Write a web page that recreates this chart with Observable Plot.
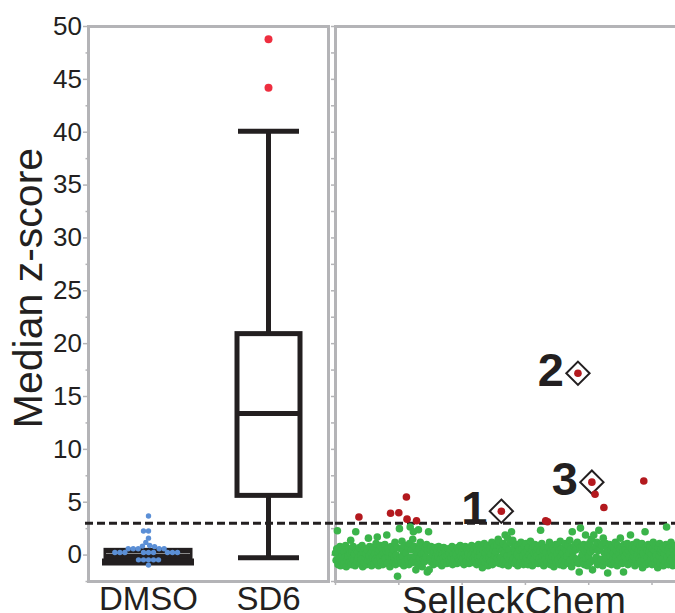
<!DOCTYPE html>
<html><head><meta charset="utf-8">
<script src="https://cdn.jsdelivr.net/npm/d3@7"></script>
<script src="https://cdn.jsdelivr.net/npm/@observablehq/plot@0.6"></script>
<style>
body{margin:0;width:675px;height:613px;overflow:hidden;background:#fff;}
#c{display:flex;align-items:flex-start;position:relative;}
</style></head><body><div id="c"></div>
<script>
// ---- data ----
const categories = ["DMSO", "SD6"];
const boxQ1 = [-0.65, 5.6];
const boxMedian = [0.15, 13.4];
const boxQ3 = [0.4, 20.9];
const whiskerLo = [-0.65, -0.25];
const whiskerHi = [0.4, 40.1];
const sd6Outliers = [48.8, 44.2];
const dmsoScores = [3.7, 2.27, 2.27, 1.6, 1.2, 0.9, 0.85, 0.8, 0.6, 0.6, 0.6, 0.6, 0.6, 0.25, 0.25, 0.25, 0.25, 0.25, 0.25, 0.25, 0.25, 0.25, -0.45, -0.45, -0.45, -0.45, -0.45, -0.95];
const threshold = 3;
const libraryName = "SelleckChem";
const yTitle = "Median z-score";
const hitLabels = ["1", "2", "3"];
const hitScores = [4.15, 17.2, 6.9];
const selleckScores = [
0.2,-0.5,0.6,2.3,-0.9,0.1,-0.3,0.8,-1.0,0.4,-0.6,0.0,0.7,-0.8,0.3,-0.2,0.9,-1.1,0.5,-0.4,
-0.1,0.6,-0.7,0.2,1.4,-0.9,0.4,-0.3,0.8,-0.5,0.1,-1.0,2.2,0.5,-0.6,0.3,-0.2,3.6,0.7,-0.8,
0.0,-0.4,0.9,-1.1,0.3,-0.7,0.6,-0.2,0.1,-0.9,0.5,-0.5,1.6,-0.1,0.8,-0.6,0.2,-1.0,0.4,-0.3,
0.7,-0.8,0.1,-0.4,1.1,-0.6,1.7,0.3,-1.0,0.5,-0.2,0.9,-0.7,0.0,0.6,-0.9,0.2,-0.5,1.0,-0.3,
0.4,1.9,-0.8,0.6,-0.1,0.3,-1.1,3.95,0.8,-0.4,0.1,-0.7,0.5,-0.2,1.2,-0.9,0.0,0.7,-2.0,-0.5,
4.0,2.5,-0.3,0.6,-0.8,1.3,-0.1,0.4,-1.0,0.9,-0.6,0.2,5.5,3.4,-0.4,0.7,-0.9,1.1,2.65,-0.2,
0.5,-0.7,1.5,2.2,-0.5,0.8,-0.1,-1.4,3.25,0.3,-0.9,2.4,0.6,-0.3,1.2,-0.8,0.1,-1.1,0.9,-0.4,
0.2,-0.6,0.7,-0.2,1.0,-1.6,0.4,2.2,-1.4,0.6,-0.3,0.8,-0.7,0.1,0.5,-0.9,0.3,-0.4,0.7,-0.1,
-0.6,0.4,-0.2,0.8,-0.8,0.2,-0.4,0.6,-1.0,0.1,-0.3,0.7,-0.7,0.3,-0.1,0.5,-0.8,0.0,0.6,-0.5,
0.2,-0.7,0.5,-0.2,0.8,-0.9,0.1,-0.4,0.6,-0.6,0.3,0.0,-0.8,0.7,-0.3,0.4,-0.5,0.9,-0.1,-0.7,
0.3,-0.4,0.6,-0.9,0.1,0.8,-0.2,-0.6,0.5,-0.1,0.2,-0.8,0.7,-0.4,0.0,0.9,-0.7,0.4,-0.3,0.6,
-0.5,0.1,0.8,-0.9,0.4,-0.2,1.0,-0.6,0.3,-0.1,0.7,-0.8,-1.2,0.5,-0.4,1.1,0.2,-0.7,0.6,-0.3,
0.9,-1.0,0.4,-0.2,0.7,-0.6,0.1,1.2,-0.9,0.5,-0.4,0.8,-0.1,0.3,-0.7,1.0,-0.3,1.5,1.3,-0.8,
0.6,-0.2,4.15,0.4,-0.9,1.1,-0.5,0.2,1.9,-0.7,0.8,-0.1,1.6,-1.0,0.5,-0.4,1.2,0.0,2.2,-0.6,
1.4,-0.3,0.7,-0.8,0.3,1.0,-0.5,0.1,-1.0,0.9,-0.2,0.5,-0.7,1.2,-0.4,0.6,-0.1,-0.9,0.8,0.2,
-0.6,1.1,-0.3,0.4,-0.9,0.7,0.0,-0.5,1.3,-0.2,0.5,-1.0,0.8,-0.4,0.2,1.0,-0.7,0.3,-0.1,0.6,
-0.8,0.9,-0.3,0.4,2.35,-0.6,1.1,-0.1,0.5,-1.0,0.7,-0.4,3.25,0.2,-0.7,3.15,0.8,-0.2,1.2,-0.9,
0.3,-0.5,0.9,-0.1,0.6,-1.1,0.4,-0.3,1.0,-0.7,0.1,0.8,-0.4,0.5,-0.9,1.3,-0.2,0.6,-0.6,0.2,
-1.0,0.7,-0.3,1.1,-0.6,0.4,-0.1,0.9,-0.8,0.2,1.4,-0.5,0.6,-1.1,2.2,0.3,-0.2,0.8,-0.7,1.0,
0.5,-0.4,1.2,17.2,-0.8,-1.6,0.7,2.55,-0.2,0.9,0.1,-0.6,1.0,-0.9,0.4,1.9,-0.3,0.6,-1.0,0.8,
-0.1,1.1,-0.7,0.3,1.5,6.9,-1.4,0.5,1.9,-0.5,5.75,0.8,-0.2,1.2,-0.9,0.4,2.35,-0.6,0.7,1.0,
-0.4,0.9,-1.0,1.6,4.5,0.2,-0.6,1.1,-0.3,0.6,-1.7,0.3,-0.8,1.0,-0.1,0.5,-0.9,0.8,-0.4,0.2,
0.7,-0.7,1.2,-0.2,0.4,-1.0,0.9,-0.5,0.1,0.6,1.6,-0.3,0.8,-0.8,0.3,-1.6,1.0,-0.1,0.5,-0.6,
0.2,1.1,-0.9,0.4,-0.2,0.8,1.9,-0.7,0.6,-0.4,1.0,-0.1,0.3,-1.0,0.7,-0.5,1.2,0.0,-0.8,0.5,
-0.3,0.9,-0.6,0.4,1.1,-1.2,0.2,7.0,-0.4,2.2,0.7,-0.9,0.5,-0.2,1.0,-0.7,0.3,0.8,-0.5,0.1,
-0.9,0.6,1.2,-0.3,0.4,-0.7,0.9,0.0,-0.5,-1.2,0.7,-0.1,1.1,-0.8,0.3,0.5,-0.4,0.8,-1.0,0.2,
0.6,-0.6,1.0,2.65,-0.2,0.4,-0.9,0.7,0.1,-0.5,1.2,-0.3,0.8,-1.0,0.5,0.0,-0.7,0.9,-0.4,0.3
];

// ---- derived tables ----
const stats = categories.map((cat, i) => ({cat, q1: boxQ1[i], median: boxMedian[i], q3: boxQ3[i], lo: whiskerLo[i], hi: whiskerHi[i]}));
const dmsoStat = stats.filter(d => d.cat === "DMSO");
const sd6Stat = stats.filter(d => d.cat === "SD6");
const compounds = selleckScores.map((z, i) => ({i, z, hit: z > threshold}));
const greens = compounds.filter(d => !d.hit);
const reds = compounds.filter(d => d.hit);
const labeled = hitLabels.map((label, k) => ({label, ...compounds.find(c => c.z === hitScores[k])}));

// ---- styles ----
const SANS = "'Liberation Sans',Arial,Helvetica,sans-serif";
const INK = "#231f20", GRAY = "#b4b4b7";
const yScale = {domain: [-2.5, 50]};

const W = 333, H = 613, MT = 26, MB = 32, ML = 88, MR = 5;
const inner = W - ML - MR;

const left = Plot.plot({
  width: W, height: H, marginTop: MT, marginBottom: MB, marginLeft: ML, marginRight: MR,
  x: {type: "band", domain: categories, padding: 0}, y: yScale,
  style: {overflow: "visible", background: "white"},
  marks: [
    Plot.frame({stroke: GRAY, strokeWidth: 3}),
    Plot.axisY({ticks: d3.range(-2.5, 50.01, 5), tickSize: 2.5, stroke: GRAY, strokeWidth: 1.5, fill: "none", label: null}),
    Plot.axisY({ticks: d3.range(0, 50.01, 5), tickSize: 5, tickPadding: 1.5, stroke: GRAY, strokeWidth: 1.5, fill: INK, fontSize: 26, fontFamily: SANS, label: null}),
    Plot.axisX({tickSize: 0, tickPadding: 5, fill: INK, fontSize: 33, fontFamily: SANS, label: null}),
    Plot.text([yTitle], {frameAnchor: "left", textAnchor: "middle", rotate: -90, dx: -60, dy: -16, fontSize: 41, fontFamily: SANS, fill: INK}),
    Plot.ruleY([threshold], {stroke: INK, strokeWidth: 3, strokeDasharray: "8,4", insetLeft: -3, insetRight: -5}),
    // SD6 box
    Plot.ruleX(sd6Stat, {x: "cat", y1: "lo", y2: "hi", stroke: INK, strokeWidth: 5}),
    Plot.barY(sd6Stat, {x: "cat", y1: "q1", y2: "q3", fill: "white", stroke: INK, strokeWidth: 5, insetLeft: 29, insetRight: 28}),
    Plot.tickY(sd6Stat, {x: "cat", y: "median", stroke: INK, strokeWidth: 5, insetLeft: 29, insetRight: 28}),
    Plot.tickY(sd6Stat, {x: "cat", y: "lo", stroke: INK, strokeWidth: 5, insetLeft: 30, insetRight: 29}),
    Plot.tickY(sd6Stat, {x: "cat", y: "hi", stroke: INK, strokeWidth: 5, insetLeft: 30, insetRight: 29}),
    Plot.dot(sd6Outliers, {x: () => "SD6", y: d => d, r: 4, fill: "#ee2e3f"}),
    // DMSO box
    Plot.barY(dmsoStat, {x: "cat", y1: "q1", y2: "q3", fill: INK, stroke: INK, strokeWidth: 5, insetLeft: 18, insetRight: 18}),
    Plot.tickY(dmsoStat, {x: "cat", y: "lo", stroke: INK, strokeWidth: 7, insetLeft: 14, insetRight: 14}),
    Plot.tickY(dmsoStat, {x: "cat", y: "median", stroke: "#8a8a8a", strokeWidth: 1.2, insetLeft: 18, insetRight: 18})
  ]
});

// DMSO beeswarm: an overlay whose frame is exactly the DMSO band, so the
// dodge "middle" anchor falls on the DMSO category centre
const swarm = Plot.plot({
  width: W, height: H, marginTop: MT, marginBottom: MB, marginLeft: ML, marginRight: MR + inner / 2,
  y: {...yScale, axis: null},
  style: {position: "absolute", left: "0px", top: "0px", background: "transparent", overflow: "visible"},
  marks: [
    Plot.dot(dmsoScores, Plot.dodgeX({anchor: "middle", padding: 0, r: 2.5}, {y: d => d, r: 2.7, fill: "#5b8fd6"}))
  ]
});

const right = Plot.plot({
  width: 347, height: H, marginTop: MT, marginBottom: MB, marginLeft: 2, marginRight: 0,
  x: {domain: [0, 545]}, y: yScale,
  style: {overflow: "visible", background: "white"},
  marks: [
    Plot.frame({stroke: GRAY, strokeWidth: 3}),
    Plot.axisY({ticks: d3.range(-2.5, 50.01, 2.5), tickSize: 4, stroke: GRAY, strokeWidth: 1.5, fill: "none", label: null}),
    Plot.axisX({ticks: d3.range(0, 501, 100), tickSize: 4, stroke: GRAY, strokeWidth: 1.5, fill: "none", label: null}),
    Plot.ruleY([threshold], {stroke: INK, strokeWidth: 3, strokeDasharray: "8,4"}),
    Plot.dot(greens, {x: "i", y: "z", r: 3.8, fill: "#3bb44a"}),
    Plot.dot(labeled, {x: "i", y: "z", symbol: "diamond2", r: 10.5, fill: "white", stroke: INK, strokeWidth: 2}),
    Plot.dot(reds, {x: "i", y: "z", r: 3.8, fill: "#b3191e"}),
    Plot.text(labeled, {x: "i", y: "z", text: "label", textAnchor: "end", dx: -14, dy: -2, fontSize: 47, fontWeight: "bold", fontFamily: SANS, fill: INK}),
    Plot.text([libraryName], {frameAnchor: "bottom", lineAnchor: "top", dy: 6, dx: 6, fontSize: 38, fontFamily: SANS, fill: INK})
  ]
});

const c = document.getElementById("c");
c.appendChild(left);
c.appendChild(right);
c.appendChild(swarm);
</script></body></html>
